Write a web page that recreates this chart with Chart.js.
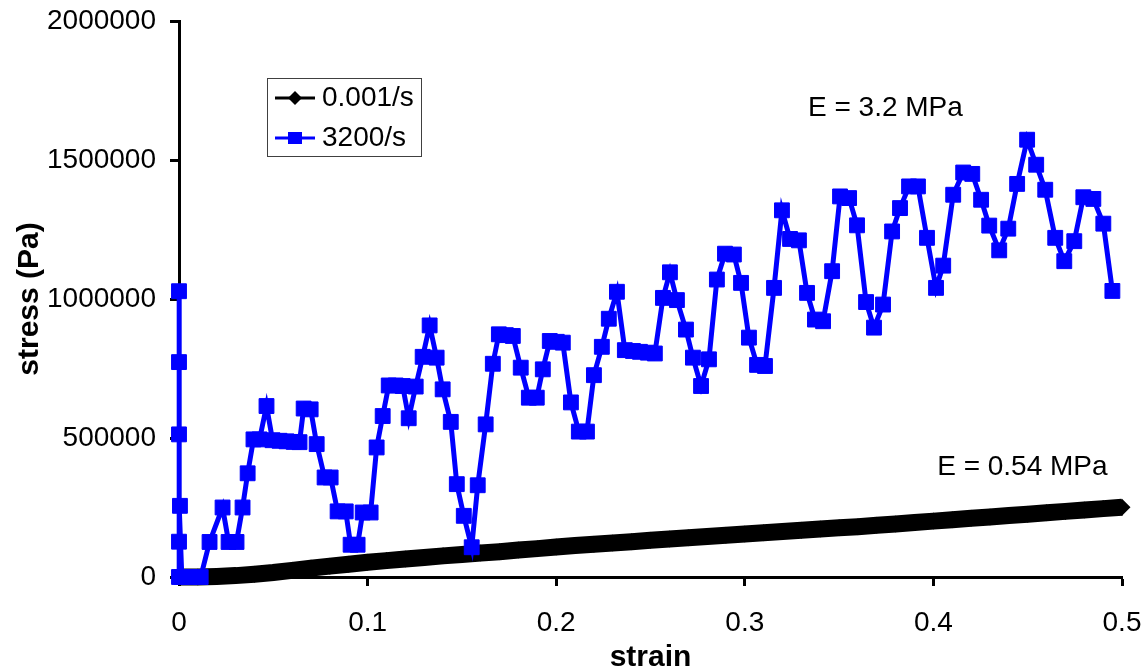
<!DOCTYPE html>
<html>
<head>
<meta charset="utf-8">
<script src="https://cdn.jsdelivr.net/npm/chart.js@4/dist/chart.umd.min.js"></script>
<style>
  html, body { margin: 0; padding: 0; background: #ffffff; }
  canvas { display: block; }
</style>
</head>
<body>
<canvas id="chart" width="1147" height="671"></canvas>
<script>
// Quasi-static test (0.001/s): strain and stress (Pa)
const slowStrain = [0, 0.01, 0.02, 0.03, 0.04, 0.05, 0.06, 0.07, 0.08, 0.09,
  0.10, 0.11, 0.12, 0.13, 0.14, 0.15, 0.16, 0.17, 0.18, 0.19,
  0.20, 0.21, 0.22, 0.23, 0.24, 0.25, 0.26, 0.27, 0.28, 0.29,
  0.30, 0.31, 0.32, 0.33, 0.34, 0.35, 0.36, 0.37, 0.38, 0.39,
  0.40, 0.41, 0.42, 0.43, 0.44, 0.45, 0.46, 0.47, 0.48, 0.49, 0.50];
const slowStress = [0, 0, 2000, 5000, 10000, 16000, 24000, 32000, 39000, 46000,
  53000, 59000, 65000, 70000, 76000, 81000, 86000, 91000, 97000, 102000,
  108000, 113000, 118000, 122000, 127000, 132000, 137000, 141000, 146000, 150000,
  155000, 159000, 164000, 168000, 173000, 177000, 181000, 186000, 191000, 196000,
  201000, 206000, 211000, 216000, 221000, 226000, 231000, 236000, 241000, 246000, 251000];

// Split Hopkinson bar test (3200/s): strain and stress (Pa)
const fastStrain = [0, 0, 0, 0, 0, 0.0005, 0.0015, 0.0055, 0.0115,
  0.0162, 0.0231, 0.0263, 0.0305, 0.0337, 0.0364, 0.0395, 0.0427, 0.0464, 0.0496,
  0.0533, 0.0570, 0.0608, 0.0639, 0.0661, 0.0698, 0.0730, 0.0772, 0.0804, 0.0841,
  0.0884, 0.0910, 0.0947, 0.0974, 0.1016, 0.1048, 0.1080, 0.1112, 0.1149, 0.1186,
  0.1218, 0.1255, 0.1292, 0.1329, 0.1366, 0.1398, 0.1441, 0.1473, 0.1510, 0.1552,
  0.1584, 0.1626, 0.1664, 0.1696, 0.1733, 0.1770, 0.1812, 0.1855, 0.1897, 0.1929,
  0.1966, 0.2003, 0.2035, 0.2078, 0.2120, 0.2163, 0.2200, 0.2242, 0.2279, 0.2322,
  0.2364, 0.2407, 0.2444, 0.2486, 0.2523, 0.2566, 0.2603, 0.2640, 0.2688, 0.2725,
  0.2768, 0.2810, 0.2852, 0.2895, 0.2942, 0.2980, 0.3022, 0.3065, 0.3107, 0.3155,
  0.3197, 0.3240, 0.3287, 0.3330, 0.3372, 0.3415, 0.3463, 0.3505, 0.3553, 0.3595,
  0.3643, 0.3685, 0.3733, 0.3781, 0.3823, 0.3871, 0.3918, 0.3966, 0.4014, 0.4052,
  0.4105, 0.4158, 0.4206, 0.4253, 0.4296, 0.4349, 0.4397, 0.4444, 0.4497, 0.4545,
  0.4593, 0.4646, 0.4694, 0.4747, 0.4795, 0.4848, 0.4901, 0.4949];
const fastStress = [0, 127000, 513000, 1028000, 773000, 256000, 0, 0, 0,
  126000, 250000, 126000, 126000, 250000, 373000, 495000, 495000, 615000, 492000,
  490000, 488000, 486000, 485000, 606000, 603000, 478000, 358000, 358000, 236000,
  236000, 116000, 116000, 232000, 232000, 466000, 579000, 689000, 689000, 687000,
  571000, 685000, 792000, 905000, 789000, 675000, 558000, 334000, 220000, 107000,
  330000, 549000, 767000, 873000, 870000, 867000, 753000, 645000, 645000, 747000,
  849000, 846000, 843000, 628000, 523000, 523000, 726000, 828000, 929000, 1026000,
  816000, 813000, 810000, 807000, 804000, 1004000, 1096000, 996000, 890000, 789000,
  687000, 783000, 1070000, 1163000, 1160000, 1058000, 861000, 763000, 759000, 1040000,
  1319000, 1216000, 1211000, 1022000, 926000, 920000, 1100000, 1369000, 1363000, 1265000,
  989000, 897000, 980000, 1243000, 1327000, 1405000, 1405000, 1220000, 1040000, 1120000,
  1375000, 1455000, 1450000, 1357000, 1264000, 1175000, 1253000, 1414000, 1573000, 1483000,
  1393000, 1220000, 1136000, 1208000, 1366000, 1360000, 1271000, 1029000];

const seriesLabels = ['0.001/s', '3200/s'];
const strainTicks = [0, 0.1, 0.2, 0.3, 0.4, 0.5];
const stressTicks = [0, 500000, 1000000, 1500000, 2000000];
const modulusNotes = ['E = 3.2 MPa', 'E = 0.54 MPa'];

const FONT = '"Liberation Sans", Arial, Helvetica, sans-serif';
const BLUE = '#0000ff';

function toPoints(xs, ys) {
  return xs.map((v, i) => ({ x: v, y: ys[i] }));
}

// Keep the plot area fixed: the outer layout padding alone decides the margins
function noLabelOverflow(scale) {
  scale.paddingTop = 0;
  scale.paddingBottom = 0;
  scale.paddingLeft = 0;
  scale.paddingRight = 0;
}

// Inline legend and modulus annotations
const overlay = {
  id: 'overlay',
  afterDraw(chart) {
    const { ctx, chartArea, scales } = chart;
    ctx.save();
    ctx.fillStyle = '#000';
    ctx.font = '28px ' + FONT;
    ctx.textAlign = 'left';
    ctx.textBaseline = 'middle';
    ctx.fillText(modulusNotes[0], scales.x.getPixelForValue(0.3335), scales.y.getPixelForValue(1686000));
    ctx.fillText(modulusNotes[1], scales.x.getPixelForValue(0.402), scales.y.getPixelForValue(394000));

    // legend box
    const bx = chartArea.left + 88, by = chartArea.top + 57, bw = 154, bh = 78;
    ctx.fillStyle = '#fff';
    ctx.fillRect(bx, by, bw, bh);
    ctx.strokeStyle = '#404040';
    ctx.lineWidth = 1;
    ctx.strokeRect(bx + 0.5, by + 0.5, bw, bh);

    const rows = [by + 20, by + 60];
    // row 1: black line with diamond
    ctx.strokeStyle = '#000';
    ctx.lineWidth = 3;
    ctx.beginPath();
    ctx.moveTo(bx + 8, rows[0]); ctx.lineTo(bx + 48, rows[0]);
    ctx.stroke();
    ctx.fillStyle = '#000';
    ctx.beginPath();
    ctx.moveTo(bx + 28, rows[0] - 7); ctx.lineTo(bx + 35, rows[0]);
    ctx.lineTo(bx + 28, rows[0] + 7); ctx.lineTo(bx + 21, rows[0]);
    ctx.closePath(); ctx.fill();
    // row 2: blue line with square
    ctx.strokeStyle = BLUE;
    ctx.beginPath();
    ctx.moveTo(bx + 8, rows[1]); ctx.lineTo(bx + 48, rows[1]);
    ctx.stroke();
    ctx.fillStyle = BLUE;
    ctx.fillRect(bx + 21, rows[1] - 6, 14, 12);

    ctx.fillStyle = '#000';
    ctx.font = '28px ' + FONT;
    ctx.fillText(seriesLabels[0], bx + 55, rows[0]);
    ctx.fillText(seriesLabels[1], bx + 55, rows[1]);
    ctx.restore();
  }
};

new Chart(document.getElementById('chart'), {
  type: 'line',
  data: {
    datasets: [
      {
        label: seriesLabels[0],
        data: toPoints(slowStrain, slowStress),
        borderColor: '#000',
        backgroundColor: '#000',
        borderWidth: 17,
        pointStyle: 'rectRot',
        pointRadius: 8.5,
        pointBorderWidth: 0,
        pointBackgroundColor: '#000',
        tension: 0,
        clip: false,
        order: 1
      },
      {
        label: seriesLabels[1],
        data: toPoints(fastStrain, fastStress),
        borderColor: BLUE,
        backgroundColor: BLUE,
        borderWidth: 5,
        pointStyle: 'rect',
        pointRadius: 10.5,
        pointBorderWidth: 1,
        pointBorderColor: BLUE,
        pointBackgroundColor: BLUE,
        tension: 0,
        clip: false,
        order: 0
      }
    ]
  },
  options: {
    responsive: false,
    animation: false,
    devicePixelRatio: 1,
    layout: { padding: { top: 21, right: 25, bottom: 0, left: 0 } },
    plugins: {
      legend: { display: false },
      tooltip: { enabled: false }
    },
    scales: {
      x: {
        type: 'linear',
        min: 0,
        max: 0.5,
        afterFit(scale) { scale.height = 94; noLabelOverflow(scale); },
        afterBuildTicks(scale) { scale.ticks = strainTicks.map(v => ({ value: v })); },
        ticks: {
          color: '#000',
          font: { family: FONT, size: 28 },
          padding: 20,
          maxRotation: 0,
          callback: v => String(v)
        },
        grid: { drawOnChartArea: false, drawTicks: true, tickLength: 9, tickWidth: 3, tickColor: '#000' },
        border: { display: true, color: '#000', width: 3 },
        title: {
          display: true,
          text: 'strain',
          color: '#000',
          font: { family: FONT, size: 30, weight: 'bold', lineHeight: 0.9 },
          padding: { top: 0, bottom: 0 }
        }
      },
      y: {
        type: 'linear',
        min: 0,
        max: 2000000,
        afterFit(scale) { scale.width = 179; noLabelOverflow(scale); },
        afterBuildTicks(scale) { scale.ticks = stressTicks.map(v => ({ value: v })); },
        ticks: {
          color: '#000',
          font: { family: FONT, size: 28 },
          padding: 14,
          callback: v => String(v)
        },
        grid: { drawOnChartArea: false, drawTicks: true, tickLength: 9, tickWidth: 3, tickColor: '#000' },
        border: { display: true, color: '#000', width: 3 },
        title: {
          display: true,
          text: 'stress (Pa)',
          color: '#000',
          font: { family: FONT, size: 30, weight: 'bold', lineHeight: 1.2 },
          padding: { top: 12, bottom: 0 }
        }
      }
    }
  },
  plugins: [overlay]
});
</script>
</body>
</html>
